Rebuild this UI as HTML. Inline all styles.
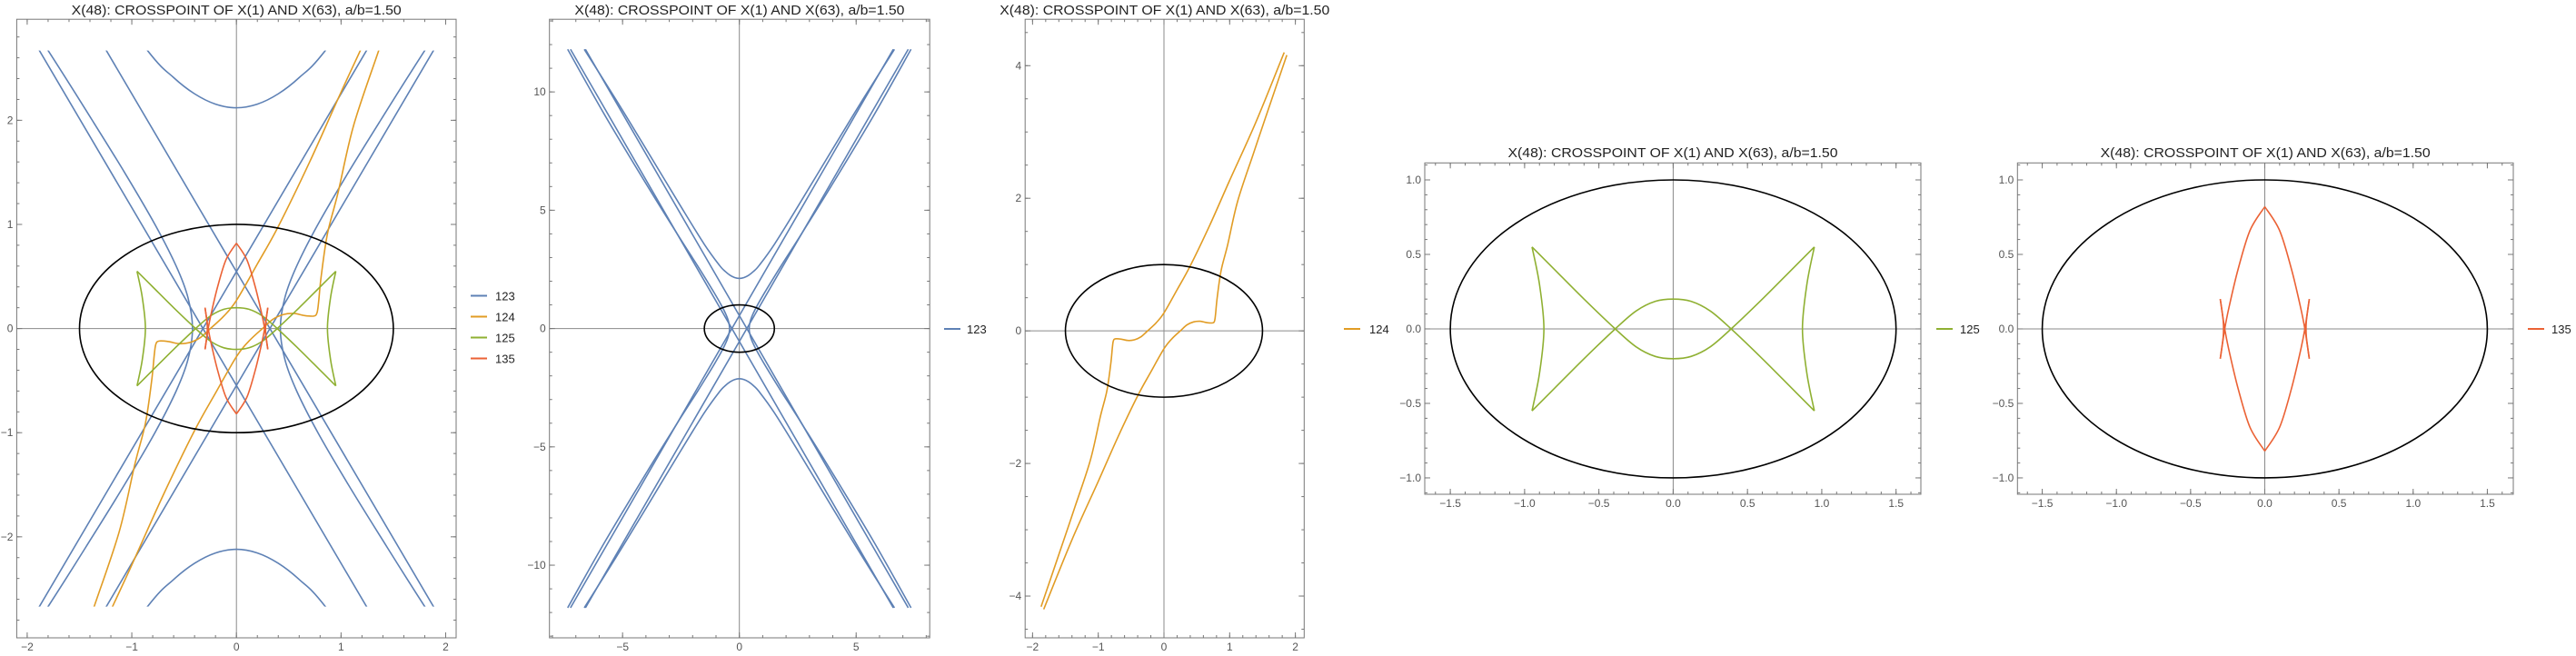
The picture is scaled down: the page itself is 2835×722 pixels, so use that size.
<!DOCTYPE html>
<html><head><meta charset="utf-8"><style>
html,body{margin:0;padding:0;background:#fff;overflow:hidden;width:2835px;height:722px;}
svg{display:block;font-family:"Liberation Sans",Arial,sans-serif;}
</style></head><body>
<svg id="root" xmlns="http://www.w3.org/2000/svg" width="2835" height="722" viewBox="0 0 2835 722"></svg>
<script>
// ---- data ----
const ellipseRadii = [1.5, 1.0];
// series 123 (blue)
const h1RightHalf = [[0,2.12],[0.2,2.155],[0.4,2.254],[0.6,2.41],[0.85,2.67],[1.5,3.56],[2.5,5.15],[4,7.6],[5.3,9.7],[6.64,11.8]];
const h2Quarter = [[0.42,0],[0.464,0.3],[0.576,0.6],[0.779,1.0],[1.07,1.5],[1.378,2.0],[1.8,2.67],[2.66,4],[3.92,6],[5.75,9],[7.35,11.8]];
const lineEnds = [[[-7.23,-11.8],[6.59,11.8]],[[-6.59,-11.8],[7.23,11.8]],[[-6.59,11.8],[7.23,-11.8]],[[-7.23,11.8],[6.59,-11.8]]];
// series 124 (orange)
const orangeCurve = [[-1.87,-4.16],[-1.54,-3.2],[-1.36,-2.67],[-1.12,-1.95],[-0.97,-1.3],[-0.87,-0.91],[-0.81,-0.5],[-0.785,-0.25],[-0.77,-0.15],[-0.74,-0.12],[-0.65,-0.125],[-0.55,-0.145],[-0.45,-0.135],[-0.35,-0.09],[-0.26,-0.01],[-0.12,0.12],[0,0.27],[0.2,0.62],[0.4,0.98],[0.7,1.6],[1.0,2.27],[1.4,3.15],[1.83,4.2]];
// series 125 (green)
const greenArc = [[-0.95,-0.55],[-0.8,-0.4],[-0.6,-0.2],[-0.39,0],[-0.25,0.12],[-0.12,0.185],[0,0.2],[0.12,0.185],[0.25,0.12],[0.39,0],[0.6,-0.2],[0.8,-0.4],[0.95,-0.55]];
const greenCusp = [[0.95,-0.55],[0.9,-0.3],[0.87,0],[0.9,0.3],[0.95,0.55]];
// series 135 (red)
const redLens = [[0,0.82],[0.1,0.66],[0.18,0.4],[0.24,0.15],[0.27,0],[0.3,-0.2]];
const redLoop = [[0.3,-0.2],[0.28,-0.05],[0.28,0.05],[0.3,0.2]];
const legendLabels = ["123","124","125","135"];
const colors = {"123":"#5E81B5","124":"#E19C24","125":"#8FB032","135":"#EB6235"};
const titleText = "X(48): CROSSPOINT OF X(1) AND X(63), a/b=1.50";

const NS="http://www.w3.org/2000/svg";
const root=document.getElementById('root');
function mk(tag,attrs,parent){const e=document.createElementNS(NS,tag);for(const k in attrs)e.setAttribute(k,attrs[k]);(parent||root).appendChild(e);return e;}

const mx=p=>p.map(q=>[-q[0],q[1]]);
const my=p=>p.map(q=>[q[0],-q[1]]);
const rv=p=>p.slice().reverse();
function seriesCurves(id){
  if(id==="123"){
    const up=rv(mx(h1RightHalf)).concat(h1RightHalf.slice(1));
    const right=rv(my(h2Quarter)).concat(h2Quarter.slice(1));
    const c=[up,my(up),right,mx(right)];
    lineEnds.forEach(l=>c.push(l));
    return c;
  }
  if(id==="124"){return [orangeCurve, orangeCurve.map(q=>[-q[0],-q[1]])];}
  if(id==="125"){return [greenArc,my(greenArc),greenCusp,mx(greenCusp)];}
  if(id==="135"){return [redLens,my(redLens),redLoop,mx(redLens),mx(my(redLens)),mx(redLoop)];}
}
function pathFrom(pts,X,Y){
  const P=pts.map(q=>[X(q[0]),Y(q[1])]);
  if(P.length<3)return "M"+P.map(p=>p[0].toFixed(2)+","+p[1].toFixed(2)).join(" L");
  let d="M"+P[0][0].toFixed(2)+","+P[0][1].toFixed(2);
  for(let i=0;i<P.length-1;i++){
    const p0=P[Math.max(0,i-1)],p1=P[i],p2=P[i+1],p3=P[Math.min(P.length-1,i+2)];
    const c1=[p1[0]+(p2[0]-p0[0])/6,p1[1]+(p2[1]-p0[1])/6];
    const c2=[p2[0]-(p3[0]-p1[0])/6,p2[1]-(p3[1]-p1[1])/6];
    d+=" C"+c1[0].toFixed(2)+","+c1[1].toFixed(2)+" "+c2[0].toFixed(2)+","+c2[1].toFixed(2)+" "+p2[0].toFixed(2)+","+p2[1].toFixed(2);
  }
  return d;
}
function range(a,b,s){const r=[];for(let v=a;v<=b+1e-9;v+=s)r.push(Math.round(v*1000)/1000);return r;}

const panels=[
 {id:1,L:18.4,R:502,T:21.2,B:702,x:[-2.1,2.1],y:[-2.97,2.97],xt:range(-2,2,1),xm:range(-2,2,0.2),yt:range(-2,2,1),ym:range(-2.8,2.8,0.2),dec:0,series:["123","124","125","135"],clip:2.67,legend:[518,545,325.5],titleY:16},
 {id:2,L:604.7,R:1023.2,T:21.2,B:702,x:[-8.13,8.15],y:[-13.07,13.07],xt:[-5,0,5],xm:range(-8,8,1),yt:[-10,-5,0,5,10],ym:range(-13,13,1),dec:0,series:["123"],clip:null,legend:[1039,1064,362],titleY:16},
 {id:3,L:1128.2,R:1435.3,T:21.2,B:702,x:[-2.113,2.134],y:[-4.63,4.70],xt:range(-2,2,1),xm:range(-2,2,0.2),yt:[-4,-2,0,2,4],ym:range(-4.5,4.5,0.5),dec:0,series:["124"],clip:null,legend:[1479,1507,362],titleY:16},
 {id:4,L:1568,R:2114,T:179.3,B:544,x:[-1.672,1.667],y:[-1.11,1.114],xt:range(-1.5,1.5,0.5),xm:range(-1.6,1.6,0.1),yt:range(-1,1,0.5),ym:range(-1.1,1.1,0.1),dec:1,series:["125"],clip:null,legend:[2131,2157,362],titleY:173},
 {id:5,L:2220.3,R:2766,T:179.3,B:544,x:[-1.667,1.675],y:[-1.11,1.114],xt:range(-1.5,1.5,0.5),xm:range(-1.6,1.6,0.1),yt:range(-1,1,0.5),ym:range(-1.1,1.1,0.1),dec:1,series:["135"],clip:null,legend:[2782,2808,362],titleY:173}
];
const fmt=(v,d)=>{let s=d?v.toFixed(1):String(Math.round(v));return s.replace('-','\u2212');};

panels.forEach(p=>{
  const g=mk('g',{});
  
  
  const X=v=>p.L+(v-p.x[0])*(p.R-p.L)/(p.x[1]-p.x[0]);
  const Y=v=>p.B-(v-p.y[0])*(p.B-p.T)/(p.y[1]-p.y[0]);
  const t=mk('text',{x:(p.L+p.R)/2,y:p.titleY,'text-anchor':'middle','font-size':15,fill:'#222',textLength:363,lengthAdjust:'spacingAndGlyphs'},g);
  t.textContent=titleText;
  
  
  const ax=mk('g',{stroke:'#8a8a8a','stroke-width':1},g);
  
  
  mk('line',{x1:p.L,x2:p.R,y1:Y(0),y2:Y(0)},ax);
  mk('line',{x1:X(0),x2:X(0),y1:p.T,y2:p.B},ax);
  const tk=mk('g',{stroke:'#777','stroke-width':1},g);
  
  
  p.xm.forEach(v=>{const x=X(v);mk('line',{x1:x,x2:x,y1:p.B,y2:p.B-3},tk);mk('line',{x1:x,x2:x,y1:p.T,y2:p.T+3},tk);});
  p.ym.forEach(v=>{const y=Y(v);mk('line',{x1:p.L,x2:p.L+3,y1:y,y2:y},tk);mk('line',{x1:p.R,x2:p.R-3,y1:y,y2:y},tk);});
  p.xt.forEach(v=>{const x=X(v);mk('line',{x1:x,x2:x,y1:p.B,y2:p.B-6},tk);mk('line',{x1:x,x2:x,y1:p.T,y2:p.T+6},tk);
    const l=mk('text',{x:x,y:p.B+14,'text-anchor':'middle','font-size':12,fill:'#555',stroke:'none'},g);l.textContent=fmt(v,p.dec);
    
    });
  p.yt.forEach(v=>{const y=Y(v);mk('line',{x1:p.L,x2:p.L+6,y1:y,y2:y},tk);mk('line',{x1:p.R,x2:p.R-6,y1:y,y2:y},tk);
    const l=mk('text',{x:p.L-4,y:y+4,'text-anchor':'end','font-size':12,fill:'#555',stroke:'none'},g);l.textContent=fmt(v,p.dec);
    
    });
  const cid='clip'+p.id;
  const cp=mk('clipPath',{id:cid},g);
  const cy1=p.clip?Y(p.clip):p.T, cy2=p.clip?Y(-p.clip):p.B;
  mk('rect',{x:p.L,y:cy1,width:p.R-p.L,height:cy2-cy1},cp);
  const plot=mk('g',{'clip-path':'url(#'+cid+')',fill:'none','stroke-linejoin':'round'},g);
  
  
  p.series.forEach(s=>{
    const sg=mk('g',{stroke:colors[s],'stroke-width':1.6},plot);
    
    
    seriesCurves(s).forEach(c=>{const e=mk('path',{d:pathFrom(c,X,Y)},sg);
      
      });
  });
  const el=mk('ellipse',{cx:X(0),cy:Y(0),rx:X(ellipseRadii[0])-X(0),ry:Y(0)-Y(ellipseRadii[1]),stroke:'#000','stroke-width':1.6,fill:'none'},plot);
  
  
  const fr=mk('rect',{x:p.L,y:p.T,width:p.R-p.L,height:p.B-p.T,fill:'none',stroke:'#777','stroke-width':1},g);
  
  
  const lg=mk('g',{},g);
  
  
  p.series.forEach((s,i)=>{
    const y=p.legend[2]+i*23;
    const e=mk('g',{},lg);
    
    
    mk('line',{x1:p.legend[0],x2:p.legend[0]+18,y1:y,y2:y,stroke:colors[s],'stroke-width':2},e);
    const tx=mk('text',{x:p.legend[1],y:y+5,'font-size':13,fill:'#222'},e);
    tx.textContent=s;
  });
});
</script>
</body></html>
